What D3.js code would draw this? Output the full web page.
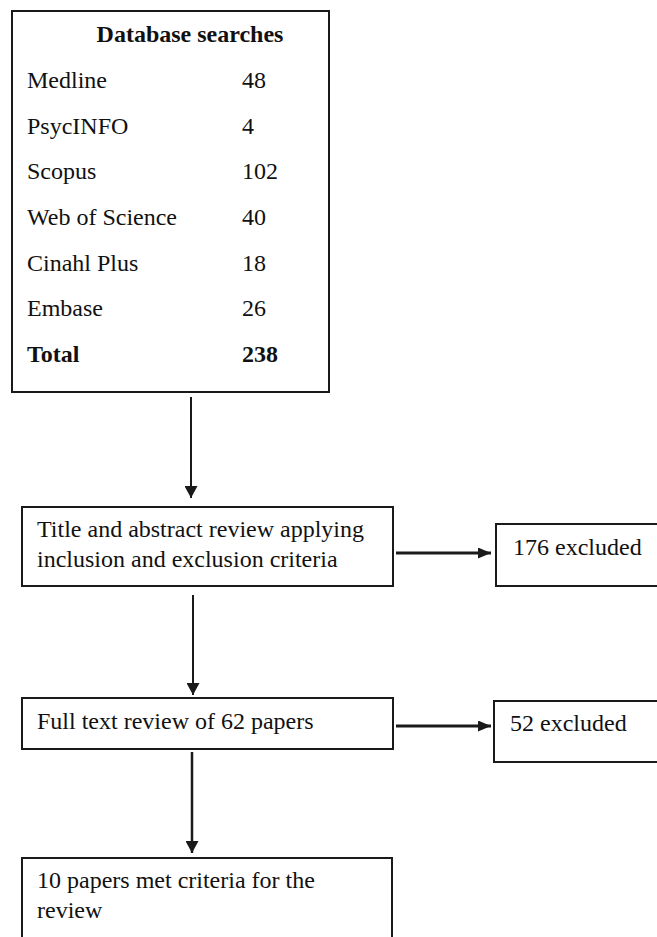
<!DOCTYPE html>
<html>
<head>
<meta charset="utf-8">
<script src="https://cdn.jsdelivr.net/npm/d3@7/dist/d3.min.js"></script>
<style>
  html, body { margin: 0; padding: 0; background: #fff; }
  svg { display: block; }
</style>
</head>
<body>
<svg id="chart" width="657" height="937"></svg>
<script>
// ---- data ----
const databaseTitle = "Database searches";
const databases = ["Medline", "PsycINFO", "Scopus", "Web of Science", "Cinahl Plus", "Embase"];
const counts = [48, 4, 102, 40, 18, 26];
const totalLabel = "Total";
const totalCount = 238;
const stepTexts = [
  ["Title and abstract review applying", "inclusion and exclusion criteria"],
  ["Full text review of 62 papers"],
  ["10 papers met criteria for the", "review"]
];
const excludedTexts = ["176 excluded", "52 excluded"];

// ---- pick an installed serif font ----
function pickFont(cands) {
  const ctx = document.createElement("canvas").getContext("2d");
  const s = "Web of Science mmmwwwiiilll 0123456789";
  const w = f => { ctx.font = "40px " + f; return ctx.measureText(s).width; };
  const mono = w("monospace"), sans = w("sans-serif");
  for (const c of cands) {
    if (w(`"${c}", monospace`) !== mono || w(`"${c}", sans-serif`) !== sans) return `"${c}"`;
  }
  return "serif";
}
const fontFamily = pickFont(["Liberation Serif", "Tinos", "Times New Roman", "Times", "Nimbus Roman", "DejaVu Serif", "Noto Serif", "FreeSerif"]) + ", serif";

// ---- drawing ----
const svg = d3.select("#chart");
const stroke = "#1a1a1a";
const fontSize = 24;

const defs = svg.append("defs");
defs.append("marker")
  .attr("id", "headV").attr("viewBox", "0 0 12 13")
  .attr("refX", 12).attr("refY", 6.5)
  .attr("markerWidth", 12).attr("markerHeight", 13)
  .attr("markerUnits", "userSpaceOnUse").attr("orient", "auto")
  .append("path").attr("d", "M0,0 L12,6.5 L0,13 Z").attr("fill", stroke);
defs.append("marker")
  .attr("id", "headH").attr("viewBox", "0 0 13 11")
  .attr("refX", 13).attr("refY", 5.5)
  .attr("markerWidth", 13).attr("markerHeight", 11)
  .attr("markerUnits", "userSpaceOnUse").attr("orient", "auto")
  .append("path").attr("d", "M0,0 L13,5.5 L0,11 Z").attr("fill", stroke);

function box(x, y, w, h) {
  svg.append("rect").attr("x", x).attr("y", y).attr("width", w).attr("height", h)
    .attr("fill", "none").attr("stroke", stroke).attr("stroke-width", 2);
}
function arrow(x1, y1, x2, y2, head, width) {
  svg.append("line").attr("x1", x1).attr("y1", y1).attr("x2", x2).attr("y2", y2)
    .attr("stroke", stroke).attr("stroke-width", width)
    .attr("marker-end", `url(#${head})`);
}
function label(x, y, t, bold, anchor) {
  return svg.append("text").attr("x", x).attr("y", y)
    .style("font-family", fontFamily).attr("font-size", fontSize)
    .attr("font-weight", bold ? "bold" : "normal")
    .attr("text-anchor", anchor || "start").attr("fill", "#111").text(t);
}

// Box 1: database searches
box(12, 11, 317, 381);
label(190, 42, databaseTitle, true, "middle");

const yRow = d3.scaleLinear().domain([0, databases.length]).range([88, 362]);
const rows = databases.map((d, i) => ({ name: d, value: counts[i], bold: false }))
  .concat([{ name: totalLabel, value: totalCount, bold: true }]);
rows.forEach((r, i) => {
  label(27, yRow(i), r.name, r.bold);
  label(242, yRow(i), r.value, r.bold);
});

// Step boxes
const steps = [
  { x: 22, y: 507, w: 371, h: 79, lines: stepTexts[0], base: 537 },
  { x: 22, y: 698, w: 371, h: 51, lines: stepTexts[1], base: 729 },
  { x: 22, y: 858, w: 370, h: 95, lines: stepTexts[2], base: 888 }
];
const lineGap = 30;
steps.forEach(s => {
  box(s.x, s.y, s.w, s.h);
  s.lines.forEach((t, j) => label(37, s.base + j * lineGap, t, false));
});

// Excluded boxes
const excl = [
  { x: 496, y: 524, w: 175, h: 62, text: excludedTexts[0], tx: 513, ty: 555, ay: 553 },
  { x: 494, y: 701, w: 175, h: 61, text: excludedTexts[1], tx: 510, ty: 731, ay: 726 }
];
excl.forEach(e => {
  box(e.x, e.y, e.w, e.h);
  label(e.tx, e.ty, e.text, false);
  arrow(396, e.ay, 491, e.ay, "headH", 3);
});

// Vertical arrows
arrow(191, 397, 191, 498, "headV", 2);
arrow(193, 595, 193, 695, "headV", 2);
arrow(192, 752, 192, 853, "headV", 2.5);
</script>
</body>
</html>
